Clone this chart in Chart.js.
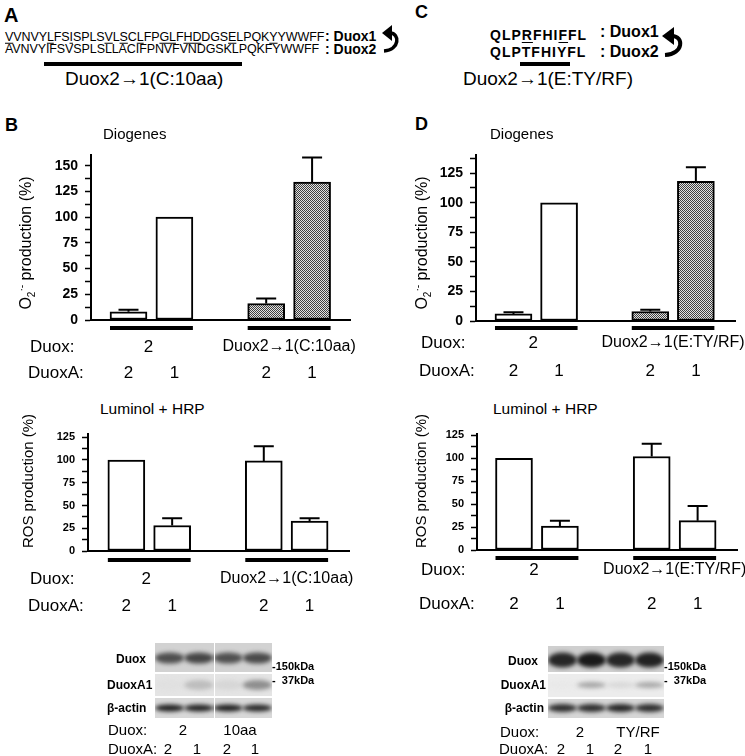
<!DOCTYPE html>
<html>
<head>
<meta charset="utf-8">
<script src="https://cdn.jsdelivr.net/npm/chart.js@4.4.1/dist/chart.umd.min.js"></script>
<style>
  body { margin: 0; background: #fff; font-family: Arial, "Liberation Sans", sans-serif; color: #000; }
  #fig { position: relative; width: 745px; height: 756px; overflow: hidden; }
  .t { position: absolute; white-space: nowrap; line-height: 1; }
  .c { position: absolute; }
  u { text-decoration-thickness: 1px; text-underline-offset: 2px; }
</style>
</head>
<body>
<div id="fig">
  <canvas id="bTop" class="c" width="360" height="250" style="left:0;top:140px"></canvas>
  <canvas id="bBot" class="c" width="360" height="200" style="left:0;top:420px"></canvas>
  <canvas id="dTop" class="c" width="365" height="250" style="left:380px;top:140px"></canvas>
  <canvas id="dBot" class="c" width="365" height="200" style="left:380px;top:420px"></canvas>
  <canvas id="blots" class="c" width="745" height="100" style="left:0;top:630px"></canvas>

  <svg class="c" style="left:382px;top:23px" width="20" height="32" viewBox="0 0 20 32">
    <path d="M2 28 C18 27 18 10 8 10" fill="none" stroke="#000" stroke-width="3.5"/>
    <polygon points="0,10 10,2 10,18" fill="#000"/>
  </svg>
  <svg class="c" style="left:662px;top:25px" width="24" height="34" viewBox="0 0 24 34">
    <path d="M3 30 C22 29 22 11 10 11" fill="none" stroke="#000" stroke-width="4"/>
    <polygon points="0,11 12,2 12,20" fill="#000"/>
  </svg>
</div>

<script>
// shared row labels
const duoxARow = ["2", "1", "2", "1"];

// B: Duox2 -> 1 (C:10aa)
const bDuoxGroups = ["2", "Duox2→1(C:10aa)"];
const bDiogenes = [8, 100, 16, 134];
const bDiogenesErr = [2, 0, 5, 24];
const bLuminol = [100, 28, 99, 33];
const bLuminolErr = [0, 8, 16, 3];

// D: Duox2 -> 1 (E:TY/RF)
const dDuoxGroups = ["2", "Duox2→1(E:TY/RF)"];
const dDiogenes = [6, 100, 8, 118];
const dDiogenesErr = [1.5, 0, 1.5, 12];
const dLuminol = [100, 26, 102, 32];
const dLuminolErr = [0, 6, 14, 16];

// y axis: labels every 25, minor ticks between
const yMajor = 25;
const yMinor = 12.5;

// blot lane labels
const bBlotDuox = ["2", "10aa"];
const dBlotDuox = ["2", "TY/RF"];

const fig = document.getElementById("fig");
function txt(html, x, y, css, anchor) {
  const d = document.createElement("div");
  d.className = "t";
  d.innerHTML = html;
  d.style.left = x + "px";
  d.style.top = y + "px";
  const ax = anchor === "c" ? "-50%" : anchor === "r" ? "-100%" : "0";
  d.style.transform = `translate(${ax},-50%)` + (css.rot ? " rotate(-90deg)" : "");
  d.style.cssText += css.s || "";
  fig.appendChild(d);
  return d;
}

// checker pattern for the hybrid bars
function hatch() {
  const c = document.createElement("canvas");
  c.width = c.height = 2;
  const g = c.getContext("2d");
  g.fillStyle = "#e2e2e2"; g.fillRect(0, 0, 2, 2);
  g.fillStyle = "#404040"; g.fillRect(0, 0, 1, 1); g.fillRect(1, 1, 1, 1);
  return g.createPattern(c, "repeat");
}

const extrasById = {};
const extras = {
  id: "extras",
  afterDatasetsDraw(chart) {
    const o = extrasById[chart.canvas.id];
    const ctx = chart.ctx, y = chart.scales.y;
    const bars = chart.getDatasetMeta(0).data;
    ctx.save();
    ctx.strokeStyle = "#000";
    ctx.lineWidth = 2;
    bars.forEach((b, i) => {
      const e = o.err[i];
      if (!e) return;
      const y0 = y.getPixelForValue(o.values[i]);
      const y1 = y.getPixelForValue(o.values[i] + e);
      ctx.beginPath();
      ctx.moveTo(b.x, y0); ctx.lineTo(b.x, y1);
      ctx.moveTo(b.x - 10, y1); ctx.lineTo(b.x + 10, y1);
      ctx.stroke();
    });
    const base = chart.chartArea.bottom;
    ctx.fillStyle = "#000";
    ctx.textBaseline = "middle";
    ctx.font = "17px Arial";
    ctx.textAlign = "left";
    ctx.fillText("Duox:", o.leftX, base + o.duoxY);
    ctx.fillText("DuoxA:", o.leftX - 2, base + o.duoxAY);
    ctx.textAlign = "center";
    [[0, 1], [2, 3]].forEach(([a, c], gi) => {
      const l = bars[a].x - bars[a].width / 2, r = bars[c].x + bars[c].width / 2;
      ctx.lineWidth = 4;
      ctx.beginPath();
      ctx.moveTo(l, base + o.lineGap); ctx.lineTo(r, base + o.lineGap);
      ctx.stroke();
      ctx.font = gi ? "16px Arial" : "17px Arial";
      ctx.fillText(o.groups[gi], (l + r) / 2 - (gi ? 0 : 3), base + o.duoxY);
    });
    ctx.font = "17px Arial";
    bars.forEach((b, i) => ctx.fillText(duoxARow[i], b.x, base + o.duoxAY));
    ctx.restore();
  }
};

function makeChart(id, cfg) {
  const slots = [1, 2, 4, 5];
  extrasById[id] = cfg;
  new Chart(document.getElementById(id), {
    type: "bar",
    data: {
      datasets: [{
        data: cfg.values.map((v, i) => ({ x: slots[i], y: v })),
        backgroundColor: cfg.fills,
        borderColor: "#000",
        borderWidth: 2,
        borderSkipped: false,
        barThickness: 37
      }]
    },
    options: {
      responsive: false,
      animation: false,
      events: [],
      layout: { padding: { top: cfg.padTop, right: cfg.padRight, left: 0, bottom: 0 } },
      plugins: { legend: { display: false }, tooltip: { enabled: false } },
      scales: {
        x: {
          type: "linear", min: cfg.xmin, max: cfg.xmax, offset: false,
          ticks: { display: false },
          grid: { display: false, offset: false },
          border: { color: "#000", width: 2 },
          afterFit: s => { s.height = cfg.xh; }
        },
        y: {
          min: 0, max: cfg.ymax,
          ticks: {
            stepSize: yMinor, includeBounds: false, autoSkip: false,
            padding: 7, color: "#000",
            font: { family: "Arial", weight: "bold", size: cfg.tickSize },
            callback: v => (v % yMajor === 0 ? v : "")
          },
          grid: { display: true, drawOnChartArea: false, tickLength: 6, tickColor: "#000", tickWidth: 1.5 },
          border: { color: "#000", width: 2 },
          afterFit: s => { s.width = cfg.yw; }
        }
      }
    },
    plugins: [extras]
  });
}

const white = "#fff";
const hp = hatch();

makeChart("bTop", {
  values: bDiogenes, err: bDiogenesErr, groups: bDuoxGroups, fills: [white, white, hp, hp],
  yw: 91, padTop: 8, padRight: 10, xh: 70, ymax: 160, xmin: 0.183, xmax: 5.826, tickSize: 14,
  lineGap: 8, duoxY: 27, duoxAY: 53, leftX: 30
});
makeChart("bBot", {
  values: bLuminol, err: bLuminolErr, groups: bDuoxGroups, fills: white,
  yw: 88, padTop: 7, padRight: 11, xh: 69, ymax: 129, xmin: 0.163, xmax: 5.86, tickSize: 11,
  lineGap: 9, duoxY: 28, duoxAY: 55, leftX: 30
});
makeChart("dTop", {
  values: dDiogenes, err: dDiogenesErr, groups: dDuoxGroups, fills: [white, white, hp, hp],
  yw: 96, padTop: 8, padRight: 10, xh: 69, ymax: 140, xmin: 0.178, xmax: 5.858, tickSize: 14,
  lineGap: 7, duoxY: 22, duoxAY: 50, leftX: 41
});
makeChart("dBot", {
  values: dLuminol, err: dLuminolErr, groups: dDuoxGroups, fills: white,
  yw: 97, padTop: 8, padRight: 8, xh: 70, ymax: 127, xmin: 0.194, xmax: 5.858, tickSize: 11,
  lineGap: 8, duoxY: 20, duoxAY: 54, leftX: 41
});

// panel A / C sequences
txt("A", 4, 15, { s: "font-size:20px;font-weight:bold" });
txt("<u>V</u>VNVY<u>L</u>FS<u>I</u>SPLS<u>V</u>L<u>S</u>C<u>L</u>FP<u>GL</u>F<u>HD</u>DGS<u>E</u>LPQK<u>Y</u>YWWFF", 5, 37,
  { s: "font-size:12.5px;letter-spacing:-0.1px" });
txt("AVNVYIFSVSPLSLLACIFPNVFVNDGSKLPQKFYWWFF", 5, 49, { s: "font-size:12.5px;letter-spacing:-0.1px" });
txt(": Duox1", 325, 36, { s: "font-size:14px;font-weight:bold" });
txt(": Duox2", 325, 49, { s: "font-size:14px;font-weight:bold" });
txt("", 44, 64, { s: "width:198px;height:4px;background:#000" });
txt("Duox2→1(C:10aa)", 65, 78, { s: "font-size:19px" });

txt("C", 415, 12, { s: "font-size:18px;font-weight:bold" });
txt("QLP<u>R</u>FHI<u>F</u>FL", 490, 35, { s: "font-size:14px;font-weight:bold;letter-spacing:1px" });
txt("QLPTFHIYFL", 490, 52, { s: "font-size:14px;font-weight:bold;letter-spacing:1px" });
txt(": Duox1", 600, 32, { s: "font-size:16px;font-weight:bold" });
txt(": Duox2", 600, 52, { s: "font-size:16px;font-weight:bold" });
txt("", 520, 64, { s: "width:50px;height:4px;background:#000" });
txt("Duox2→1(E:TY/RF)", 463, 78, { s: "font-size:19px" });

// panel titles
txt("B", 5, 125, { s: "font-size:18px;font-weight:bold" });
txt("D", 415, 124, { s: "font-size:18px;font-weight:bold" });
txt("Diogenes", 103, 133, { s: "font-size:15px" });
txt("Diogenes", 490, 133, { s: "font-size:15px" });
txt("Luminol + HRP", 100, 409, { s: "font-size:15.5px" });
txt("Luminol + HRP", 493, 409, { s: "font-size:15.5px" });

// rotated y titles
const o2 = "O<sub style='font-size:10px'>2</sub><sup style='font-size:10px'>·-</sup> production (%)";
txt(o2, 27, 243, { rot: 1, s: "font-size:16px" }, "c");
txt(o2, 423, 243, { rot: 1, s: "font-size:16px" }, "c");
txt("ROS production (%)", 27, 481, { rot: 1, s: "font-size:15px" }, "c");
txt("ROS production (%)", 420, 481, { rot: 1, s: "font-size:15px" }, "c");

// western blots
const bc = document.getElementById("blots").getContext("2d");
function strip(x0, x1, top, h, bg, bandY, bandH, lanes) {
  bc.fillStyle = bg;
  bc.fillRect(x0, top - 630, x1 - x0, h);
  const lw = (x1 - x0) / 4;
  lanes.forEach((c, i) => {
    bc.save();
    bc.beginPath(); bc.rect(x0, top - 630, x1 - x0, h); bc.clip();
    bc.filter = "blur(2px)";
    bc.fillStyle = c;
    bc.beginPath();
    bc.ellipse(x0 + lw * (i + 0.5), bandY - 630, lw * 0.5, bandH / 2, 0, 0, Math.PI * 2);
    bc.fill();
    bc.restore();
  });
}
strip(155, 272, 643, 29, "#d2d2d2", 658, 11, ["#4e4e4e", "#454545", "#505050", "#4a4a4a"]);
strip(155, 272, 674, 22, "#e4e4e4", 685, 10, ["#e0e0e0", "#bdbdbd", "#d6d6d6", "#8e8e8e"]);
strip(155, 272, 698, 20, "#d8d8d8", 708, 7, ["#1e1e1e", "#222", "#1e1e1e", "#262626"]);
bc.fillStyle = "#fff";
bc.fillRect(214, 13, 1, 75);

strip(548, 664, 646, 26, "#cfcfcf", 660, 15, ["#262626", "#1a1a1a", "#262626", "#222"]);
strip(548, 664, 674, 23, "#ececec", 685, 6, ["#e8e8e8", "#a5a5a5", "#d8d8d8", "#a8a8a8"]);
strip(548, 664, 699, 19, "#d6d6d6", 708, 8, ["#2e2e2e", "#2e2e2e", "#262626", "#2e2e2e"]);

const bf = "font-size:12px;font-weight:bold";
txt("Duox", 116, 659, { s: bf });
txt("DuoxA1", 107, 685, { s: bf });
txt("β-actin", 107, 708, { s: bf });
txt("-150kDa", 272, 666, { s: "font-size:11px;font-weight:bold" });
txt("-&nbsp; 37kDa", 272, 680, { s: "font-size:11px;font-weight:bold" });
txt("Duox", 538, 661, { s: bf }, "r");
txt("DuoxA1", 546, 685, { s: bf }, "r");
txt("β-actin", 544, 708, { s: bf }, "r");
txt("-150kDa", 664, 666, { s: "font-size:11px;font-weight:bold" });
txt("-&nbsp; 37kDa", 664, 680, { s: "font-size:11px;font-weight:bold" });

const lf = "font-size:15px";
txt("Duox:", 108, 729, { s: lf });
txt("DuoxA:", 108, 748, { s: lf });
txt(bBlotDuox[0], 183, 729, { s: lf }, "c");
txt(bBlotDuox[1], 240, 729, { s: lf }, "c");
[168, 197, 227, 255].forEach((x, i) => txt(duoxARow[i], x, 748, { s: lf }, "c"));
txt("Duox:", 500, 731, { s: lf });
txt("DuoxA:", 499, 748, { s: lf });
txt(dBlotDuox[0], 580, 731, { s: lf }, "c");
txt(dBlotDuox[1], 638, 731, { s: lf }, "c");
[561, 590, 618, 648].forEach((x, i) => txt(duoxARow[i], x, 748, { s: lf }, "c"));
</script>
</body>
</html>
